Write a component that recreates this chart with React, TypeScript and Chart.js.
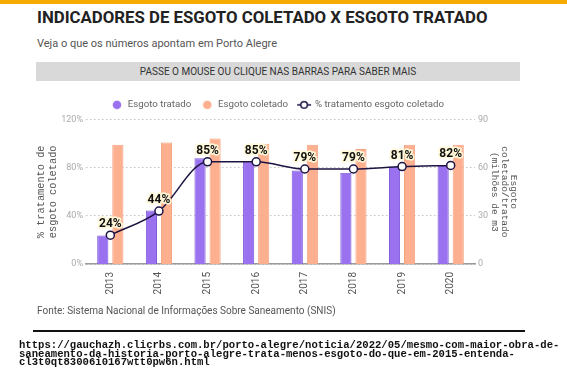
import React, { useEffect, useRef } from "react";
import { Chart, registerables } from "chart.js";

Chart.register(...registerables);

const years = ["2013", "2014", "2015", "2016", "2017", "2018", "2019", "2020"];
const esgotoTratado = [17.7, 33.3, 66.0, 64.0, 58.3, 56.9, 60.6, 61.7];
const esgotoColetado = [74.4, 75.8, 78.3, 75.0, 74.4, 71.7, 74.4, 74.4];
const pctTratamento = [24, 44, 85, 85, 79, 79, 81, 82];
const leftTicks = [0, 40, 80, 120];
const rightTicks = [0, 30, 60, 90];

const PURPLE = "#9a72f0";
const PURPLE_BORDER = "#7a55d8";
const PEACH = "#fdb08f";
const PEACH_BORDER = "#f3a07d";
const LINE = "#1c1342";

function makeCircle(color: string) {
  const c = document.createElement("canvas");
  c.width = 10;
  c.height = 10;
  const g = c.getContext("2d")!;
  g.fillStyle = color;
  g.beginPath();
  g.arc(5, 5, 4.3, 0, Math.PI * 2);
  g.fill();
  return c;
}

function makeLineIcon() {
  const c = document.createElement("canvas");
  c.width = 16;
  c.height = 10;
  const g = c.getContext("2d")!;
  g.strokeStyle = LINE;
  g.lineWidth = 1.5;
  g.beginPath();
  g.moveTo(1, 5);
  g.lineTo(15, 5);
  g.stroke();
  g.fillStyle = "#fff";
  g.beginPath();
  g.arc(8, 5, 3.3, 0, Math.PI * 2);
  g.fill();
  g.stroke();
  return c;
}

const labelPlugin = {
  id: "pctLabels",
  afterDatasetsDraw(chart: any) {
    const meta = chart.getDatasetMeta(2);
    const ctx = chart.ctx;
    ctx.save();
    ctx.font = "bold 12px Roboto";
    ctx.textAlign = "center";
    ctx.textBaseline = "middle";
    ctx.lineJoin = "round";
    meta.data.forEach((pt: any, i: number) => {
      const t = pctTratamento[i] + "%";
      ctx.lineWidth = 3.5;
      ctx.strokeStyle = "rgba(255,248,215,0.95)";
      ctx.strokeText(t, pt.x, pt.y - 11);
      ctx.fillStyle = "#111";
      ctx.fillText(t, pt.x, pt.y - 11);
    });
    ctx.restore();
  },
};

function ChartView() {
  const ref = useRef<HTMLCanvasElement | null>(null);
  useEffect(() => {
    if (!ref.current) return;
    const icons = [makeCircle(PURPLE), makeCircle(PEACH), makeLineIcon()];
    const chart = new Chart(ref.current, {
      type: "bar",
      data: {
        labels: years,
        datasets: [
          {
            type: "bar",
            label: "Esgoto tratado",
            data: esgotoTratado,
            yAxisID: "y1",
            backgroundColor: PURPLE,
            borderColor: PURPLE_BORDER,
            borderWidth: 1,
            categoryPercentage: 0.62,
            barPercentage: 0.74,
            order: 1,
          },
          {
            type: "bar",
            label: "Esgoto coletado",
            data: esgotoColetado,
            yAxisID: "y1",
            backgroundColor: PEACH,
            borderColor: PEACH_BORDER,
            borderWidth: 1,
            categoryPercentage: 0.62,
            barPercentage: 0.74,
            order: 1,
          },
          {
            type: "line",
            label: "% tratamento esgoto coletado",
            data: pctTratamento,
            yAxisID: "y",
            borderColor: LINE,
            borderWidth: 1.5,
            pointRadius: 4,
            pointBackgroundColor: "#fff",
            pointBorderColor: LINE,
            pointBorderWidth: 1.5,
            cubicInterpolationMode: "monotone",
            order: 0,
          },
        ] as any,
      },
      options: {
        animation: false,
        responsive: false,
        layout: { padding: { left: 36, right: 48, top: 90, bottom: 72 } },
        plugins: {
          tooltip: { enabled: false },
          legend: {
            position: "top",
            labels: {
              usePointStyle: true,
              boxWidth: 12,
              boxHeight: 10,
              pointStyleWidth: 12,
              padding: 10,
              color: "#666",
              font: { family: "Roboto", size: 9.7 },
              sort: (a: any, b: any) => a.datasetIndex - b.datasetIndex,
              generateLabels: (ch: any) => {
                const items = Chart.defaults.plugins.legend.labels.generateLabels(ch);
                return items.map((it: any) => ({
                  ...it,
                  pointStyle: icons[it.datasetIndex],
                  lineWidth: 0,
                }));
              },
            },
          },
        },
        scales: {
          x: {
            grid: { display: false, drawTicks: false },
            border: { display: true, color: "#9a9a9a", width: 1.5 },
            ticks: {
              minRotation: 90,
              maxRotation: 90,
              padding: 8,
              color: "#555",
              font: { family: "Roboto", size: 10 },
            },
            afterFit: (s: any) => {
              s.height = 40;
            },
          },
          y: {
            position: "left",
            min: 0,
            max: 120,
            afterBuildTicks: (s: any) => {
              s.ticks = leftTicks.map((v) => ({ value: v }));
            },
            ticks: {
              padding: 3,
              color: "#aaa",
              font: { family: "Roboto", size: 9 },
              callback: (v: any) => v + "%",
            },
            grid: { color: "#c4c4c4", drawTicks: false, lineWidth: 1 },
            border: { display: false, dash: [1.5, 2.5] },
            title: {
              display: true,
              text: ["% tratamento de", "esgoto coletado"],
              color: "#555",
              font: { family: "Liberation Mono", size: 10.3, lineHeight: 1.1 },
              padding: { top: 0, bottom: 0 },
            },
            afterFit: (s: any) => {
              s.width = 50;
            },
          },
          y1: {
            position: "right",
            min: 0,
            max: 90,
            afterBuildTicks: (s: any) => {
              s.ticks = rightTicks.map((v) => ({ value: v }));
            },
            ticks: {
              padding: 3,
              color: "#aaa",
              font: { family: "Roboto", size: 9 },
            },
            grid: { display: false, drawTicks: false },
            border: { display: false },
            title: {
              display: true,
              text: ["Esgoto", "coletado/tratado", "(milhões de m3"],
              color: "#555",
              font: { family: "Liberation Mono", size: 9.5, lineHeight: 1.05 },
              padding: { top: 0, bottom: 0 },
            },
            afterFit: (s: any) => {
              s.width = 44;
            },
          },
        },
      } as any,
      plugins: [labelPlugin],
    });
    return () => chart.destroy();
  }, []);
  return (
    <canvas
      ref={ref}
      width={567}
      height={376}
      style={{ position: "absolute", left: 0, top: 0, width: 567, height: 376 }}
    />
  );
}

export default function App() {
  return (
    <div
      style={{
        position: "fixed",
        left: 0,
        top: 0,
        width: 567,
        height: 376,
        background: "#fff",
        overflow: "hidden",
        fontFamily: "Roboto, sans-serif",
      }}
    >
      <div style={{ position: "absolute", left: 0, top: 0, width: 567, height: 4, background: "#f5ab00" }} />
      <div
        style={{
          position: "absolute",
          left: 37,
          top: 7,
          fontSize: 16.8,
          fontWeight: 700,
          color: "#222",
          whiteSpace: "nowrap",
          lineHeight: "20px",
        }}
      >
        INDICADORES DE ESGOTO COLETADO X ESGOTO TRATADO
      </div>
      <div
        style={{
          position: "absolute",
          left: 37,
          top: 36,
          fontSize: 11,
          color: "#555",
          whiteSpace: "nowrap",
          lineHeight: "16px",
        }}
      >
        Veja o que os números apontam em Porto Alegre
      </div>
      <div
        style={{
          position: "absolute",
          left: 36,
          top: 62,
          width: 484,
          height: 19,
          background: "#d9d9d9",
          color: "#333",
          fontSize: 10,
          lineHeight: "19px",
          textAlign: "center",
          whiteSpace: "nowrap",
        }}
      >
        PASSE O MOUSE OU CLIQUE NAS BARRAS PARA SABER MAIS
      </div>
      <ChartView />
      <div
        style={{
          position: "absolute",
          left: 37,
          top: 303,
          fontSize: 10,
          color: "#555",
          whiteSpace: "nowrap",
          lineHeight: "16px",
        }}
      >
        Fonte: Sistema Nacional de Informações Sobre Saneamento (SNIS)
      </div>
      <div style={{ position: "absolute", left: 33, top: 330, width: 492, height: 2, background: "#111" }} />
      <div
        style={{
          position: "absolute",
          left: 19,
          top: 341,
          fontFamily: "'Liberation Mono', monospace",
          fontWeight: 700,
          fontSize: 10.6,
          lineHeight: "8.7px",
          color: "#111",
          whiteSpace: "pre",
        }}
      >
        {"https://gauchazh.clicrbs.com.br/porto-alegre/noticia/2022/05/mesmo-com-maior-obra-de-\nsaneamento-da-historia-porto-alegre-trata-menos-esgoto-do-que-em-2015-entenda-\ncl3t0qt83006i0167wtt0pw6n.html"}
      </div>
    </div>
  );
}
